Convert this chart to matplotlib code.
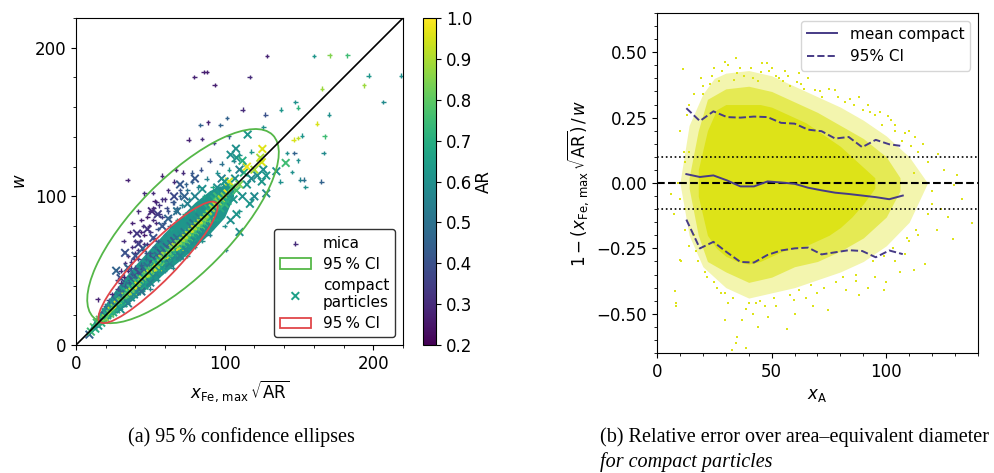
import matplotlib
matplotlib.use("Agg")
import matplotlib.pyplot as plt
from matplotlib.patches import Ellipse
from matplotlib.ticker import MultipleLocator
from matplotlib.cm import ScalarMappable
from matplotlib.colors import Normalize

plt.rcParams["font.size"] = 12

# --- (a) mica vs compact particles, coloured by aspect ratio ---
mica_x = [14.6, 18, 20, 22, 24, 26, 28, 30, 30, 32, 33, 35, 36, 37, 38, 40, 40, 42, 43, 44,
          45, 46, 47, 48, 49, 50, 50, 52, 52, 53, 54, 55, 56, 57, 58, 59, 60, 61, 62, 63,
          64, 65, 66, 67, 68, 70, 71, 72, 73, 75, 76, 78, 80, 82, 84, 86, 88, 90, 92, 95,
          98, 100, 103, 106, 110, 113, 118, 34.8, 67.2, 57.8, 46, 51.7, 38, 42, 36, 32, 44,
          60, 70, 80, 90, 101, 100, 110, 118, 95, 85, 75, 65, 55, 45, 50,
          128.5, 85.8, 88.1, 79.6, 116.9, 93.3, 112.1, 127.4, 101.6, 88.8, 83.6, 97.1, 126,
          75.7, 84.7, 102.7, 92.6, 160, 170.6, 182.5, 197, 219, 165.6, 193.7, 206.7, 147.6,
          149.4, 170.1, 162.2, 138, 146.5, 149.4, 152.1, 167.2, 166.7, 142, 147, 149.4,
          145.4, 137.5, 151, 153.3, 154.4, 165]
mica_y = [30.8, 22, 26, 30, 34, 28, 38, 42, 34, 46, 40, 50, 44, 56, 48, 62, 52, 58, 70, 54,
          64, 74, 58, 68, 80, 62, 90, 72, 84, 66, 96, 78, 88, 70, 98, 82, 74, 92, 104, 86,
          78, 96, 110, 90, 84, 100, 94, 116, 88, 104, 98, 110, 92, 106, 118, 100, 112, 124, 106, 116,
          122, 110, 118, 124, 128, 122, 130, 111, 118, 113.9, 102, 102.2, 82, 90, 76, 70, 84,
          50, 58, 66, 74, 64, 80, 90, 98, 84, 70, 60, 52, 44, 36, 38,
          194.4, 183.6, 183.6, 180.4, 180.4, 175, 158.4, 155, 152.8, 149.9, 148.1, 148.1, 146.5,
          138.2, 138.7, 140.4, 136, 194.4, 194.8, 194.8, 181.3, 181.3, 172.4, 174.6, 163.6, 163.6,
          159.6, 155, 149, 158.4, 138.2, 139.3, 140.9, 140.4, 129.2, 129.2, 129.2, 124.3,
          116.4, 109.9, 111.2, 111.2, 106.3, 110]
mica_ar = [.28, .4, .45, .35, .3, .6, .35, .3, .5, .28, .42, .3, .45, .32, .4, .3, .38, .33, .28, .45,
           .3, .26, .5, .32, .28, .42, .3, .35, .3, .5, .3, .4, .33, .55, .32, .42, .6, .38, .3, .45,
           .65, .4, .3, .5, .62, .45, .55, .3, .68, .5, .6, .45, .7, .55, .4, .65, .55, .4, .68, .6,
           .5, .7, .62, .55, .6, .7, .62, .28, .27, .28, .3, .3, .28, .3, .27, .3, .28,
           .55, .6, .6, .55, .55, .6, .62, .6, .65, .6, .62, .58, .6, .6, .55,
           .28, .27, .27, .28, .3, .27, .3, .4, .45, .28, .45, .45, .6,
           .28, .3, .45, .35, .62, .85, .75, .62, .6, .88, .88, .58, .6,
           .72, .6, .95, .62, .95, .92, .62, .75, .58, .6, .45, .6,
           .6, .6, .55, .5, .6, .45]

# purple / blue flakes above the main band
mica2_x = [35, 38, 40, 42, 44, 46, 48, 50, 52, 54, 56, 58, 60, 39, 33, 37, 30, 28, 45, 53,
           62, 66, 70, 74, 78, 55, 47, 63, 68]
mica2_y = [60, 66, 70, 64, 76, 68, 86, 76, 92, 82, 94, 86, 98, 58, 55, 52, 50, 44, 80, 97,
           90, 96, 104, 108, 116, 70, 62, 80, 92]
mica2_ar = [.28, .3, .27, .32, .28, .3, .27, .33, .28, .3, .32, .35, .3, .35, .3, .38, .3, .33, .3, .27,
            .4, .42, .4, .45, .42, .42, .42, .5, .45]

compact_x = [9, 10, 12, 13, 14, 15, 16, 17, 18, 19, 20, 20, 21,
             22, 23, 24, 25, 25, 26, 27, 27, 28, 29, 29, 30, 30, 31, 31, 32, 33, 33, 34, 34, 35, 35,
             36, 36, 37, 37, 38, 38, 39, 39, 40, 40, 41, 41, 42, 42, 43, 43, 44, 44, 45, 45, 46, 46,
             47, 47, 48, 48, 49, 49, 50, 50,
             51, 51, 52, 52, 53, 53, 54, 54, 55, 55, 56, 56, 57, 57, 58, 58, 59, 59, 60, 60, 61, 61,
             62, 62, 63, 63, 64, 64, 65, 65, 66, 66, 67, 67, 68, 68, 69, 69, 70, 70,
             71, 71, 72, 72, 73, 73, 74, 74, 75, 75, 76, 76, 77, 77, 78, 78, 79, 79, 80, 80, 81, 81,
             82, 82, 83, 83, 84, 84, 85, 85, 86, 86, 87, 87, 88, 88, 89, 89, 90, 90,
             91, 91, 92, 93, 93, 94, 95, 95, 96, 97, 97, 98, 99, 100, 100, 101, 102, 102, 103, 104,
             105, 106, 107, 108, 110, 112, 113, 115, 115, 117, 118, 120, 120, 122, 124, 125, 125,
             126, 128, 104, 108, 110, 112, 98, 95, 100, 108, 104,
             115.5, 125.4, 107.6, 134.8, 141.1, 128, 110,
             40, 45, 52, 35, 30, 58, 62, 68, 75, 80, 85, 73, 70, 55, 48, 42, 80, 66, 51, 41, 33, 27]
compact_y = [7, 9, 12, 11, 15, 13, 17, 15, 19, 17, 22, 18, 20,
             25, 21, 23, 28, 22, 25, 30, 24, 27, 33, 26, 29, 24, 35, 30, 28, 33, 38, 30, 36, 33, 28,
             40, 35, 32, 38, 44, 36, 34, 41, 38, 46, 36, 42, 40, 49, 38, 45, 42, 36, 48, 44, 40, 51,
             46, 42, 53, 47, 44, 50, 48, 42,
             55, 50, 46, 58, 52, 56, 48, 54, 60, 52, 50, 57, 55, 62, 52, 58, 56, 64, 54, 60, 57, 66,
             58, 63, 60, 55, 68, 62, 58, 65, 62, 70, 60, 66, 64, 72, 62, 68, 66, 60,
             74, 68, 65, 70, 76, 68, 72, 64, 78, 70, 74, 66, 80, 72, 76, 68, 82, 74, 78, 70, 84, 76,
             80, 72, 86, 78, 82, 74, 88, 80, 84, 76, 90, 82, 86, 78, 92, 84, 88, 80,
             95, 86, 92, 98, 88, 94, 100, 90, 96, 102, 92, 98, 104, 95, 100, 106, 97, 102, 110, 100,
             106, 98, 112, 104, 108, 100, 116, 120, 108, 95, 112, 118, 100, 114, 126, 123, 110,
             118, 114, 128, 126, 118, 124, 112, 106, 110, 88, 84,
             141.6, 131.9, 132.1, 116.9, 122.5, 102, 76,
             60, 65, 72, 52, 45, 80, 85, 90, 95, 100, 105, 100, 108, 88, 78, 68, 112, 100, 90, 75, 62, 50]
compact_ar = [.45, .75, .8, .7, .75, .6, .8, .72, .65, .78, .6, .85, .7,
              .55, .8, .9, .6, .7, .85, .5, .72, .95, .55, .65, .82, .6, .45, .75, .7, .88, .5, .62, .68, .78, .55,
              .5, .85, .6, .72, .42, .9, .58, .66, .8, .45, .62, .74, .95, .38, .55, .7, .82, .5, .58, .9, .65, .45,
              .78, .6, .5, .86, .68, .72, .92, .55,
              .52, .8, .62, .4, .88, .65, .58, .75, .48, .94, .6, .7, .84, .42, .66, .9, .74, .5, .62, .88, .78, .45,
              .6, .72, .92, .55, .48, .8, .64, .86, .74, .42, .58, .9, .7, .5, .62, .82, .95, .55,
              .6, .8, .66, .88, .52, .74, .9, .58, .62, .8, .92, .6, .55, .76, .86, .62, .5, .7, .94, .58, .6, .78,
              .88, .64, .55, .72, .9, .6, .62, .8, .92, .58, .6, .74, .85, .62, .7, .8, .9, .6,
              .62, .7, .88, .68, .6, .92, .75, .62, .85, .64, .7, .9, .6, .74, .85, .62, .7, .98, .95, .66,
              .8, .62, .6, .75, .85, .6, .72, .98, .62, .62, .58, .9, .58, .6, .9, .95, .62,
              .6, .62, .6, .62, .55, .7, .55, .6, .62, .62, .6,
              .62, .96, .6, .6, .75, .58, .6,
              .4, .45, .4, .45, .4, .42, .45, .5, .55, .55, .6, .45, .42, .35, .32, .35, .42, .38, .3, .33, .4, .45]

# extent of the crowded band of compact particles along the diagonal
band_x = [9, 15, 20, 30, 40, 50, 60, 70, 80, 90, 100, 106]
band_hi = [11, 21, 28, 42, 54, 65, 76, 86, 96, 104, 108, 108]
band_lo = [8, 12, 16, 24, 32, 40, 49, 57, 66, 75, 86, 100]
core_band_x = [15, 20, 30, 40, 50, 60, 70, 80, 90, 96]
core_band_hi = [16, 22, 33, 44, 55, 65, 75, 85, 94, 97]
core_band_lo = [14, 18, 27, 36, 45, 55, 65, 75, 85, 93]

# 95 % confidence ellipses: centre, semi-axes, rotation (deg)
mica_ell = (72, 80, 86, 32, 45.5)
compact_ell = (55.2, 55.6, 56, 12, 45.6)

# --- (b) relative error of compact particles over x_A ---
bin_x = [12.8, 18.7, 24.6, 30.5, 36.4, 42.3, 48.2, 54.1, 60.0, 65.9, 71.8, 77.7, 83.6, 89.5, 95.4, 101.3, 107.2]
mean_rel = [0.034, 0.023, 0.029, 0.010, -0.013, -0.013, 0.006, 0.002, -0.003, -0.018, -0.028,
            -0.037, -0.042, -0.048, -0.054, -0.062, -0.048]
ci_hi = [0.286, 0.237, 0.274, 0.252, 0.250, 0.254, 0.252, 0.230, 0.227, 0.204, 0.198, 0.170,
         0.176, 0.137, 0.165, 0.148, 0.141]
ci_lo = [-0.140, -0.250, -0.225, -0.265, -0.302, -0.304, -0.275, -0.258, -0.250, -0.247, -0.273,
         -0.265, -0.257, -0.260, -0.284, -0.258, -0.272]

# outlines of the cloud: solid core, dense ring, thin fringe
core_x = [18, 22, 26, 30, 35, 40, 45, 50, 55, 60, 65, 70, 75, 80, 85, 90, 95]
core_hi = [0.05, 0.2, 0.28, 0.3, 0.3, 0.3, 0.3, 0.29, 0.27, 0.25, 0.23, 0.2, 0.17, 0.14, 0.1, 0.06, 0.02]
core_lo = [-0.05, -0.2, -0.25, -0.28, -0.3, -0.31, -0.3, -0.28, -0.26, -0.25, -0.24, -0.22, -0.2, -0.17, -0.13, -0.08, -0.02]
mid_x = [14, 18, 22, 30, 40, 50, 60, 70, 80, 90, 100, 106]
mid_hi = [0.02, 0.2, 0.32, 0.36, 0.37, 0.35, 0.31, 0.27, 0.22, 0.17, 0.1, 0.02]
mid_lo = [-0.02, -0.2, -0.3, -0.34, -0.38, -0.36, -0.32, -0.3, -0.26, -0.21, -0.13, -0.03]
halo_x = [10, 14, 20, 25, 30, 40, 50, 60, 70, 80, 90, 100, 110, 118]
halo_hi = [0.0, 0.22, 0.34, 0.4, 0.42, 0.43, 0.41, 0.37, 0.33, 0.29, 0.24, 0.18, 0.1, 0.0]
halo_lo = [0.0, -0.2, -0.32, -0.36, -0.4, -0.44, -0.42, -0.4, -0.37, -0.34, -0.3, -0.24, -0.15, 0.0]

# sparse particles around the cloud
stray_x = [11.2, 29.6, 34.6, 46, 47.9, 28.5, 45.3, 61, 68.9, 77.7, 22.9, 33.6, 38, 42, 52, 55, 58, 64, 72,
           82, 86, 90, 95, 97.1, 100.7, 104, 108, 112.4, 116, 122.6, 118, 125, 131, 129.6, 120, 127,
           137.5, 129.2, 122, 116.8, 112.1, 108, 104, 99, 95, 86.9, 82.5, 78, 74.5, 70, 65, 59.9,
           56.5, 52, 48.2, 45, 42, 40, 37.2, 34.3, 35, 32.8, 38.7, 29.5, 29.6, 31, 26, 22, 18, 14,
           12, 8.3, 8.5, 8, 9.9, 10.5, 7.2, 6.3, 9, 11.7, 14, 10.2, 13, 16, 19, 25, 36, 50, 56, 62,
           75, 88, 92, 102, 110, 114, 112, 116, 120, 118, 114, 110, 106, 92, 88, 68, 60, 44, 100,
           124, 133, 12, 10, 12, 14, 16, 20,
           20, 24, 27, 31, 35, 41, 44, 49, 53, 57, 63, 66, 71, 79, 84, 93, 98, 104, 107, 111,
           21, 25, 28, 33, 39, 43, 47, 51, 58, 62, 67, 73, 81, 87, 94, 99, 103, 109, 113, 17]
stray_y = [0.436, 0.462, 0.477, 0.458, 0.46, 0.43, 0.424, 0.385, 0.354, 0.356, 0.379, 0.392, 0.41, 0.4,
           0.41, 0.39, 0.37, 0.36, 0.33, 0.31, 0.3, 0.28, 0.26, 0.271, 0.258, 0.22, 0.19, 0.176, 0.15,
           0.112, 0.08, 0.05, 0.029, -0.009, -0.03, -0.13, -0.153, -0.216, -0.18, -0.308, -0.333,
           -0.27, -0.3, -0.41, -0.36, -0.375, -0.41, -0.38, -0.486, -0.42, -0.44, -0.448, -0.56,
           -0.47, -0.511, -0.45, -0.5, -0.46, -0.524, -0.613, -0.588, -0.639, -0.632, -0.522,
           -0.422, -0.46, -0.4, -0.36, -0.3, -0.24, -0.18, -0.458, -0.471, -0.413, -0.295, -0.3,
           -0.117, -0.041, 0.0, 0.118, 0.3, 0.2, 0.26, 0.34, 0.4, 0.44, 0.44, 0.44, 0.43, 0.42,
           0.36, 0.33, 0.3, 0.24, 0.2, 0.12, 0.04, 0.0, -0.08, -0.12, -0.2, -0.22, -0.34, -0.4,
           -0.43, -0.47, -0.5, -0.55, -0.38, -0.1, -0.06, 0.08, -0.06, -0.1, 0.12, -0.2, 0.34,
           0.37, 0.41, 0.39, 0.45, 0.42, 0.44, 0.39, 0.43, 0.4, 0.41, 0.38, 0.4, 0.35, 0.33, 0.32,
           0.27, 0.22, 0.2, 0.16, 0.14,
           -0.34, -0.38, -0.42, -0.44, -0.48, -0.46, -0.47, -0.44, -0.43, -0.41, -0.39, -0.4, -0.36,
           -0.35, -0.3, -0.28, -0.25, -0.21, -0.18, -0.26]

fig = plt.figure(figsize=(9.95, 4.73), dpi=100)
ax1 = fig.add_axes([0.0764, 0.2706, 0.3286, 0.6913])
cax = fig.add_axes([0.4251, 0.2706, 0.0131, 0.6913])
ax2 = fig.add_axes([0.6603, 0.2537, 0.3226, 0.7188])

norm = Normalize(vmin=0.2, vmax=1.0)
cmap = plt.get_cmap("viridis")
green = "#55b748"
red = "#e0464a"

ax1.fill_between(band_x, band_lo, band_hi, color=cmap(norm(0.62)), lw=0, zorder=1)
ax1.fill_between(core_band_x, core_band_lo, core_band_hi, color=cmap(norm(0.8)), lw=0, zorder=1)
ax1.scatter(mica_x + mica2_x, mica_y + mica2_y, c=mica_ar + mica2_ar, cmap=cmap, norm=norm,
            marker="+", s=11, linewidths=1.0, label="mica", zorder=2)
e1 = Ellipse(mica_ell[:2], 2 * mica_ell[2], 2 * mica_ell[3], angle=mica_ell[4],
             fill=False, edgecolor=green, lw=1.3, label="95\u2009% CI", zorder=4)
ax1.add_patch(e1)
ax1.scatter(compact_x, compact_y, c=compact_ar, cmap=cmap, norm=norm, marker="x",
            s=30, linewidths=1.4, label="compact\nparticles", zorder=3)
e2 = Ellipse(compact_ell[:2], 2 * compact_ell[2], 2 * compact_ell[3], angle=compact_ell[4],
             fill=False, edgecolor=red, lw=1.3, label="95\u2009% CI", zorder=4)
ax1.add_patch(e2)
ax1.plot([0, 220], [0, 220], color="k", lw=1.2, zorder=5)

ax1.set_xlim(0, 220)
ax1.set_ylim(0, 220)
ax1.xaxis.set_major_locator(MultipleLocator(100))
ax1.yaxis.set_major_locator(MultipleLocator(100))
ax1.xaxis.set_minor_locator(MultipleLocator(20))
ax1.yaxis.set_minor_locator(MultipleLocator(20))
ax1.set_xlabel(r"$x_\mathrm{Fe,\,max}\,\sqrt{\mathrm{AR}}$")
ax1.set_ylabel(r"$w$")
leg1 = ax1.legend(loc="lower right", fontsize=11, handlelength=2.0, borderaxespad=0.5,
                  labelspacing=0.4)
leg1.get_frame().set_edgecolor("0.2")
leg1.get_frame().set_alpha(1)
# legend symbols in a typical colour of each group
leg1.legend_handles[0].set_color(cmap(norm(0.3)))
leg1.legend_handles[2].set_color(cmap(norm(0.65)))

cb = fig.colorbar(ScalarMappable(norm=norm, cmap=cmap), cax=cax)
cb.set_ticks([0.2, 0.3, 0.4, 0.5, 0.6, 0.7, 0.8, 0.9, 1.0])
cb.set_label("AR", labelpad=2)
cb.outline.set_linewidth(0.8)

yellow = "#dde318"
ax2.fill_between(halo_x, halo_lo, halo_hi, color=yellow, alpha=0.35, lw=0, zorder=1)
ax2.fill_between(mid_x, mid_lo, mid_hi, color=yellow, alpha=0.6, lw=0, zorder=1)
ax2.fill_between(core_x, core_lo, core_hi, color=yellow, lw=0, zorder=1)
ax2.scatter(stray_x, stray_y, color=yellow, s=3, marker="s", lw=0, zorder=1)
ax2.axhline(0, color="k", ls="--", lw=1.5, zorder=2)
ax2.axhline(0.1, color="k", ls=":", lw=1.2, zorder=2)
ax2.axhline(-0.1, color="k", ls=":", lw=1.2, zorder=2)
line_c = "#463b86"
ax2.plot(bin_x, mean_rel, color=line_c, lw=1.4, label="mean compact", zorder=3)
ax2.plot(bin_x, ci_hi, color=line_c, lw=1.4, ls="--", label="95% CI", zorder=3)
ax2.plot(bin_x, ci_lo, color=line_c, lw=1.4, ls="--", zorder=3)
ax2.set_xlim(0, 140)
ax2.set_ylim(-0.65, 0.65)
ax2.xaxis.set_major_locator(MultipleLocator(50))
ax2.xaxis.set_minor_locator(MultipleLocator(10))
ax2.yaxis.set_major_locator(MultipleLocator(0.25))
ax2.yaxis.set_minor_locator(MultipleLocator(0.05))
ax2.set_xlabel(r"$x_\mathrm{A}$")
ax2.set_ylabel(r"$1-(x_\mathrm{Fe,\,max}\,\sqrt{\mathrm{AR}})\,/\,w$")
ax2.legend(loc="upper right", fontsize=11)

serif = ["Liberation Serif", "DejaVu Serif"]
fig.text(0.243, 0.065, "(a) 95\u2009% confidence ellipses", ha="center", fontsize=14.5, family=serif)
fig.text(0.603, 0.065, "(b) Relative error over area\u2013equivalent diameter", ha="left",
         fontsize=14.5, family=serif)
fig.text(0.603, 0.012, "for compact particles", ha="left", fontsize=14.5, family=serif, style="italic")

fig.savefig("out.png", dpi=100)
